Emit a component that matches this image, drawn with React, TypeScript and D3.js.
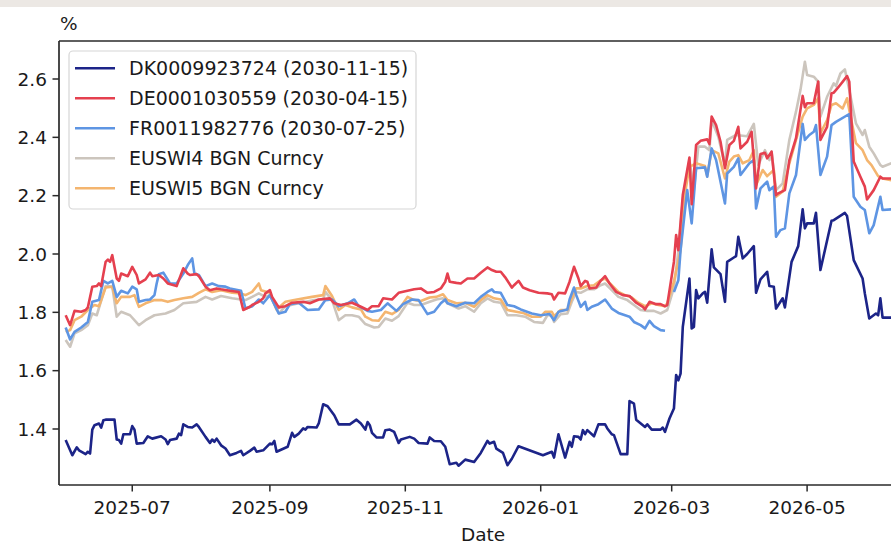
import React from "react";
import * as d3 from "d3";

type Pt = [string, number | null];

const seriesNames = [
  "DK0009923724 (2030-11-15)",
  "DE0001030559 (2030-04-15)",
  "FR0011982776 (2030-07-25)",
  "EUSWI4 BGN Curncy",
  "EUSWI5 BGN Curncy",
];
const seriesColors = ["#1c2488", "#e5404f", "#5e95e3", "#ccc5bd", "#f4b56f"];

const dk: Pt[] = [
  ["2025-06-01",1.362],["2025-06-04",1.310],["2025-06-06",1.337],["2025-06-07",1.327],["2025-06-10",1.314],["2025-06-11",1.322],["2025-06-12",1.316],["2025-06-13",1.398],["2025-06-14",1.413],["2025-06-16",1.419],["2025-06-17",1.405],["2025-06-18",1.430],["2025-06-19",1.432],["2025-06-23",1.432],["2025-06-24",1.364],["2025-06-25",1.362],["2025-06-26",1.350],["2025-06-27",1.382],["2025-06-30",1.382],["2025-07-01",1.410],["2025-07-02",1.398],["2025-07-03",1.350],["2025-07-06",1.352],["2025-07-08",1.375],["2025-07-10",1.367],["2025-07-14",1.375],["2025-07-16",1.364],["2025-07-17",1.348],["2025-07-18",1.362],["2025-07-21",1.367],["2025-07-22",1.384],["2025-07-23",1.379],["2025-07-24",1.416],["2025-07-26",1.407],["2025-07-28",1.405],["2025-07-30",1.416],["2025-07-31",1.407],["2025-08-03",1.373],["2025-08-05",1.352],["2025-08-06",1.364],["2025-08-07",1.356],["2025-08-08",1.367],["2025-08-10",1.344],["2025-08-12",1.333],["2025-08-14",1.310],["2025-08-17",1.318],["2025-08-19",1.325],["2025-08-20",1.310],["2025-08-23",1.325],["2025-08-25",1.336],["2025-08-26",1.322],["2025-08-29",1.327],["2025-09-01",1.350],["2025-09-02",1.348],["2025-09-03",1.359],["2025-09-04",1.322],["2025-09-06",1.329],["2025-09-09",1.339],["2025-09-11",1.387],["2025-09-12",1.373],["2025-09-14",1.384],["2025-09-16",1.402],["2025-09-17",1.398],["2025-09-18",1.407],["2025-09-22",1.405],["2025-09-23",1.419],["2025-09-25",1.485],["2025-09-27",1.478],["2025-09-30",1.447],["2025-10-02",1.416],["2025-10-07",1.416],["2025-10-10",1.432],["2025-10-12",1.419],["2025-10-14",1.398],["2025-10-15",1.424],["2025-10-16",1.413],["2025-10-17",1.387],["2025-10-19",1.371],["2025-10-22",1.371],["2025-10-23",1.396],["2025-10-25",1.398],["2025-10-27",1.390],["2025-10-29",1.352],["2025-10-30",1.364],["2025-11-03",1.373],["2025-11-05",1.367],["2025-11-07",1.352],["2025-11-11",1.350],["2025-11-12",1.371],["2025-11-14",1.359],["2025-11-17",1.358],["2025-11-19",1.339],["2025-11-21",1.279],["2025-11-24",1.284],["2025-11-25",1.274],["2025-11-28",1.295],["2025-12-02",1.287],["2025-12-05",1.318],["2025-12-08",1.359],["2025-12-09",1.350],["2025-12-11",1.356],["2025-12-12",1.333],["2025-12-15",1.318],["2025-12-17",1.276],["2025-12-19",1.298],["2025-12-22",1.341],["2026-01-02",1.310],["2026-01-06",1.322],["2026-01-07",1.302],["2026-01-09",1.382],["2026-01-12",1.302],["2026-01-14",1.356],["2026-01-15",1.339],["2026-01-16",1.375],["2026-01-18",1.373],["2026-01-19",1.364],["2026-01-20",1.396],["2026-01-21",1.382],["2026-01-22",1.396],["2026-01-25",1.375],["2026-01-27",1.416],["2026-01-30",1.416],["2026-01-31",1.402],["2026-02-02",1.382],["2026-02-03",1.379],["2026-02-06",1.314],["2026-02-09",1.314],["2026-02-10",1.496],["2026-02-12",1.487],["2026-02-13",1.432],["2026-02-17",1.407],["2026-02-18",1.416],["2026-02-20",1.398],["2026-02-24",1.398],["2026-02-25",1.405],["2026-02-26",1.390],["2026-02-28",1.436],["2026-03-02",1.470],["2026-03-03",1.585],["2026-03-04",1.567],["2026-03-05",1.590],["2026-03-06",1.750],["2026-03-09",1.916],["2026-03-10",1.745],["2026-03-11",1.750],["2026-03-12",1.876],["2026-03-13",1.848],["2026-03-15",1.865],["2026-03-16",1.870],["2026-03-17",1.833],["2026-03-19",2.016],["2026-03-20",1.954],["2026-03-23",1.931],["2026-03-25",1.836],["2026-03-26",1.973],["2026-03-29",1.988],["2026-03-30",1.993],["2026-03-31",2.059],["2026-04-02",1.985],["2026-04-04",2.000],["2026-04-07",2.027],["2026-04-08",1.867],["2026-04-10",1.913],["2026-04-13",1.939],["2026-04-14",1.890],["2026-04-16",1.888],["2026-04-17",1.813],["2026-04-20",1.848],["2026-04-21",1.817],["2026-04-24",1.973],["2026-04-27",2.027],["2026-04-29",2.153],["2026-04-30",2.088],["2026-05-01",2.105],["2026-05-04",2.105],["2026-05-05",2.141],["2026-05-07",1.945],["2026-05-12",2.114],["2026-05-13",2.116],["2026-05-18",2.141],["2026-05-19",2.130],["2026-05-22",1.979],["2026-05-26",1.916],["2026-05-27",1.865],["2026-05-29",1.779],["2026-06-01",1.796],["2026-06-02",1.790],["2026-06-03",1.848],["2026-06-04",1.782],["2026-06-08",1.782],
];

const de: Pt[] = [
  ["2025-06-01",1.790],["2025-06-03",1.756],["2025-06-05",1.805],["2025-06-08",1.802],["2025-06-10",1.808],["2025-06-11",1.817],["2025-06-13",1.888],["2025-06-15",1.890],["2025-06-16",1.899],["2025-06-17",1.890],["2025-06-19",1.973],["2025-06-20",1.981],["2025-06-21",1.973],["2025-06-22",1.996],["2025-06-24",1.916],["2025-06-25",1.908],["2025-06-26",1.933],["2025-06-29",1.924],["2025-07-01",1.956],["2025-07-03",1.928],["2025-07-04",1.899],["2025-07-07",1.913],["2025-07-09",1.936],["2025-07-10",1.924],["2025-07-13",1.928],["2025-07-15",1.916],["2025-07-17",1.899],["2025-07-21",1.890],["2025-07-24",1.951],["2025-07-26",1.933],["2025-07-27",1.928],["2025-07-30",1.931],["2025-07-31",1.924],["2025-08-03",1.888],["2025-08-05",1.876],["2025-08-08",1.882],["2025-08-10",1.879],["2025-08-14",1.874],["2025-08-18",1.870],["2025-08-20",1.808],["2025-08-23",1.819],["2025-08-24",1.825],["2025-08-27",1.836],["2025-08-29",1.848],["2025-08-30",1.865],["2025-09-01",1.876],["2025-09-02",1.853],["2025-09-05",1.817],["2025-09-08",1.821],["2025-09-11",1.833],["2025-09-16",1.836],["2025-09-19",1.831],["2025-09-23",1.844],["2025-09-28",1.848],["2025-09-30",1.831],["2025-10-03",1.825],["2025-10-08",1.833],["2025-10-12",1.819],["2025-10-15",1.808],["2025-10-17",1.821],["2025-10-20",1.821],["2025-10-22",1.848],["2025-10-26",1.844],["2025-10-29",1.867],["2025-11-02",1.874],["2025-11-05",1.879],["2025-11-08",1.882],["2025-11-11",1.867],["2025-11-14",1.870],["2025-11-17",1.882],["2025-11-19",1.905],["2025-11-20",1.933],["2025-11-21",1.905],["2025-11-24",1.901],["2025-11-26",1.899],["2025-11-29",1.916],["2025-12-02",1.916],["2025-12-05",1.936],["2025-12-08",1.954],["2025-12-10",1.945],["2025-12-12",1.939],["2025-12-14",1.939],["2025-12-16",1.920],["2025-12-19",1.885],["2025-12-20",1.893],["2025-12-22",1.908],["2025-12-24",1.885],["2025-12-27",1.876],["2025-12-31",1.867],["2026-01-04",1.865],["2026-01-06",1.862],["2026-01-07",1.844],["2026-01-09",1.867],["2026-01-12",1.865],["2026-01-14",1.905],["2026-01-16",1.956],["2026-01-18",1.916],["2026-01-19",1.890],["2026-01-21",1.908],["2026-01-22",1.905],["2026-01-23",1.882],["2026-01-26",1.885],["2026-01-28",1.908],["2026-01-30",1.924],["2026-02-01",1.899],["2026-02-04",1.870],["2026-02-07",1.859],["2026-02-10",1.856],["2026-02-13",1.833],["2026-02-16",1.819],["2026-02-17",1.810],["2026-02-19",1.836],["2026-02-22",1.828],["2026-02-24",1.828],["2026-02-26",1.821],["2026-02-27",1.825],["2026-03-02",1.973],["2026-03-03",2.065],["2026-03-04",2.013],["2026-03-06",2.202],["2026-03-09",2.331],["2026-03-10",2.171],["2026-03-12",2.374],["2026-03-14",2.388],["2026-03-17",2.393],["2026-03-18",2.377],["2026-03-19",2.471],["2026-03-21",2.442],["2026-03-23",2.385],["2026-03-25",2.294],["2026-03-27",2.374],["2026-03-29",2.388],["2026-03-31",2.436],["2026-04-01",2.362],["2026-04-04",2.385],["2026-04-06",2.419],["2026-04-08",2.225],["2026-04-10",2.343],["2026-04-12",2.347],["2026-04-13",2.328],["2026-04-15",2.351],["2026-04-17",2.202],["2026-04-18",2.208],["2026-04-21",2.219],["2026-04-23",2.322],["2026-04-26",2.397],["2026-04-29",2.542],["2026-04-30",2.503],["2026-05-01",2.517],["2026-05-04",2.517],["2026-05-06",2.591],["2026-05-07",2.391],["2026-05-10",2.436],["2026-05-12",2.551],["2026-05-13",2.553],["2026-05-15",2.571],["2026-05-19",2.610],["2026-05-20",2.591],["2026-05-22",2.317],["2026-05-25",2.265],["2026-05-27",2.231],["2026-05-28",2.187],["2026-05-31",2.219],["2026-06-03",2.265],["2026-06-04",2.259],["2026-06-08",2.259],
];

const fr: Pt[] = [
  ["2025-06-01",1.748],["2025-06-03",1.707],["2025-06-05",1.733],["2025-06-08",1.748],["2025-06-11",1.767],["2025-06-13",1.836],["2025-06-16",1.842],["2025-06-18",1.908],["2025-06-20",1.899],["2025-06-22",1.908],["2025-06-24",1.853],["2025-06-26",1.874],["2025-06-29",1.865],["2025-07-01",1.888],["2025-07-03",1.879],["2025-07-04",1.836],["2025-07-07",1.842],["2025-07-09",1.844],["2025-07-11",1.859],["2025-07-12",1.899],["2025-07-13",1.931],["2025-07-15",1.936],["2025-07-18",1.899],["2025-07-21",1.899],["2025-07-24",1.933],["2025-07-26",1.962],["2025-07-28",1.985],["2025-07-29",1.933],["2025-07-31",1.928],["2025-08-03",1.890],["2025-08-06",1.899],["2025-08-09",1.890],["2025-08-12",1.888],["2025-08-14",1.882],["2025-08-19",1.874],["2025-08-21",1.813],["2025-08-24",1.821],["2025-08-27",1.844],["2025-08-29",1.831],["2025-09-01",1.859],["2025-09-05",1.796],["2025-09-08",1.802],["2025-09-10",1.828],["2025-09-14",1.833],["2025-09-18",1.808],["2025-09-23",1.810],["2025-09-26",1.842],["2025-09-29",1.844],["2025-10-02",1.821],["2025-10-06",1.831],["2025-10-09",1.844],["2025-10-11",1.821],["2025-10-15",1.805],["2025-10-17",1.802],["2025-10-21",1.808],["2025-10-24",1.831],["2025-10-28",1.805],["2025-10-31",1.828],["2025-11-04",1.844],["2025-11-07",1.842],["2025-11-11",1.794],["2025-11-14",1.802],["2025-11-17",1.831],["2025-11-19",1.844],["2025-11-20",1.831],["2025-11-24",1.821],["2025-11-28",1.833],["2025-12-02",1.831],["2025-12-05",1.853],["2025-12-08",1.870],["2025-12-10",1.879],["2025-12-11",1.870],["2025-12-14",1.867],["2025-12-17",1.825],["2025-12-20",1.821],["2025-12-23",1.810],["2025-12-28",1.796],["2026-01-01",1.790],["2026-01-05",1.794],["2026-01-07",1.773],["2026-01-09",1.802],["2026-01-13",1.810],["2026-01-14",1.844],["2026-01-16",1.885],["2026-01-17",1.859],["2026-01-19",1.819],["2026-01-21",1.836],["2026-01-22",1.808],["2026-01-24",1.819],["2026-01-27",1.828],["2026-01-30",1.844],["2026-02-02",1.813],["2026-02-05",1.798],["2026-02-08",1.790],["2026-02-10",1.785],["2026-02-12",1.767],["2026-02-15",1.756],["2026-02-17",1.745],["2026-02-19",1.771],["2026-02-21",1.753],["2026-02-24",1.739],["2026-02-26",1.737],["2026-02-28",null],["2026-03-02",1.870],["2026-03-04",1.910],["2026-03-05",2.013],["2026-03-08",2.219],["2026-03-10",2.105],["2026-03-12",2.294],["2026-03-16",2.297],["2026-03-17",2.265],["2026-03-19",2.362],["2026-03-21",2.322],["2026-03-25",2.173],["2026-03-26",2.276],["2026-03-29",2.299],["2026-03-31",2.328],["2026-04-01",2.271],["2026-04-05",2.311],["2026-04-07",2.322],["2026-04-08",2.156],["2026-04-10",2.225],["2026-04-13",2.248],["2026-04-14",2.219],["2026-04-16",2.231],["2026-04-17",2.059],["2026-04-19",2.082],["2026-04-21",2.088],["2026-04-23",2.208],["2026-04-26",2.271],["2026-04-29",2.446],["2026-04-30",2.391],["2026-05-02",2.408],["2026-05-04",2.419],["2026-05-05",2.442],["2026-05-07",2.271],["2026-05-10",2.334],["2026-05-12",2.442],["2026-05-14",2.453],["2026-05-20",2.480],["2026-05-22",2.196],["2026-05-25",2.162],["2026-05-27",2.151],["2026-05-29",2.071],["2026-05-31",2.099],["2026-06-03",2.196],["2026-06-04",2.151],["2026-06-08",2.153],
];

const euswi4: Pt[] = [
  ["2025-06-01",1.705],["2025-06-03",1.682],["2025-06-05",1.728],["2025-06-08",1.739],["2025-06-11",1.756],["2025-06-13",1.796],["2025-06-15",1.790],["2025-06-19",1.890],["2025-06-22",1.888],["2025-06-24",1.785],["2025-06-26",1.802],["2025-06-30",1.790],["2025-07-04",1.756],["2025-07-07",1.773],["2025-07-11",1.790],["2025-07-16",1.796],["2025-07-20",1.808],["2025-07-24",1.831],["2025-07-30",1.836],["2025-08-03",1.853],["2025-08-06",1.844],["2025-08-10",1.856],["2025-08-15",1.848],["2025-08-19",1.844],["2025-08-21",1.842],["2025-08-24",1.853],["2025-08-27",1.865],["2025-08-30",1.853],["2025-09-01",1.859],["2025-09-05",1.796],["2025-09-08",1.821],["2025-09-14",1.831],["2025-09-21",1.842],["2025-09-25",1.844],["2025-09-26",1.870],["2025-09-29",1.842],["2025-10-02",1.773],["2025-10-05",1.790],["2025-10-08",1.790],["2025-10-11",1.785],["2025-10-14",1.760],["2025-10-18",1.748],["2025-10-20",1.750],["2025-10-23",1.779],["2025-10-26",1.771],["2025-10-29",1.787],["2025-11-02",1.833],["2025-11-05",1.825],["2025-11-08",1.825],["2025-11-12",1.836],["2025-11-15",1.844],["2025-11-18",1.848],["2025-11-20",1.831],["2025-11-25",1.813],["2025-11-28",1.821],["2025-12-02",1.802],["2025-12-05",1.831],["2025-12-08",1.848],["2025-12-11",1.836],["2025-12-14",1.833],["2025-12-17",1.790],["2025-12-21",1.790],["2025-12-25",1.785],["2025-12-29",1.767],["2026-01-02",1.764],["2026-01-04",1.790],["2026-01-06",1.790],["2026-01-07",1.767],["2026-01-10",1.794],["2026-01-13",1.796],["2026-01-15",1.836],["2026-01-17",1.870],["2026-01-19",1.867],["2026-01-22",1.879],["2026-01-25",1.879],["2026-01-28",1.893],["2026-01-30",1.899],["2026-02-02",1.876],["2026-02-05",1.853],["2026-02-09",1.842],["2026-02-12",1.825],["2026-02-15",1.808],["2026-02-18",1.805],["2026-02-21",1.805],["2026-02-24",1.796],["2026-02-27",1.808],["2026-03-02",1.885],["2026-03-04",2.010],["2026-03-06",2.185],["2026-03-09",2.322],["2026-03-11",2.219],["2026-03-13",2.368],["2026-03-16",2.368],["2026-03-18",2.356],["2026-03-19",2.459],["2026-03-22",2.402],["2026-03-25",2.305],["2026-03-26",2.391],["2026-03-30",2.408],["2026-04-04",2.404],["2026-04-07",2.446],["2026-04-09",2.305],["2026-04-12",2.356],["2026-04-14",2.322],["2026-04-15",2.351],["2026-04-17",2.219],["2026-04-20",2.242],["2026-04-23",2.391],["2026-04-26",2.488],["2026-04-28",2.562],["2026-04-30",2.659],["2026-05-01",2.614],["2026-05-04",2.608],["2026-05-06",2.591],["2026-05-07",2.471],["2026-05-10",2.539],["2026-05-13",2.585],["2026-05-14",2.576],["2026-05-16",2.619],["2026-05-18",2.633],["2026-05-20",2.562],["2026-05-23",2.448],["2026-05-26",2.408],["2026-05-27",2.425],["2026-05-29",2.368],["2026-05-31",2.345],["2026-06-03",2.305],["2026-06-04",2.299],["2026-06-08",2.311],
];

const euswi5: Pt[] = [
  ["2025-06-01",1.733],["2025-06-03",1.739],["2025-06-05",1.773],["2025-06-08",1.785],["2025-06-11",1.808],["2025-06-14",1.825],["2025-06-16",1.821],["2025-06-19",1.885],["2025-06-22",1.888],["2025-06-24",1.831],["2025-06-26",1.853],["2025-06-30",1.853],["2025-07-02",1.859],["2025-07-04",1.819],["2025-07-07",1.831],["2025-07-11",1.842],["2025-07-14",1.842],["2025-07-17",1.836],["2025-07-20",1.842],["2025-07-24",1.848],["2025-07-28",1.853],["2025-07-31",1.867],["2025-08-03",1.879],["2025-08-06",1.870],["2025-08-10",1.876],["2025-08-15",1.867],["2025-08-19",1.865],["2025-08-21",1.859],["2025-08-24",1.870],["2025-08-27",1.899],["2025-08-28",1.876],["2025-09-01",1.867],["2025-09-04",1.810],["2025-09-08",1.836],["2025-09-12",1.842],["2025-09-20",1.853],["2025-09-25",1.859],["2025-09-26",1.890],["2025-09-29",1.856],["2025-10-02",1.808],["2025-10-05",1.825],["2025-10-08",1.817],["2025-10-12",1.810],["2025-10-14",1.785],["2025-10-17",1.773],["2025-10-20",1.771],["2025-10-23",1.802],["2025-10-26",1.794],["2025-10-29",1.808],["2025-11-02",1.853],["2025-11-05",1.842],["2025-11-08",1.839],["2025-11-12",1.851],["2025-11-15",1.853],["2025-11-18",1.862],["2025-11-20",1.842],["2025-11-24",1.831],["2025-11-28",1.833],["2025-12-02",1.819],["2025-12-05",1.842],["2025-12-08",1.859],["2025-12-11",1.848],["2025-12-14",1.844],["2025-12-17",1.808],["2025-12-21",1.802],["2025-12-24",1.798],["2025-12-28",1.785],["2026-01-01",1.785],["2026-01-03",1.802],["2026-01-06",1.802],["2026-01-07",1.787],["2026-01-10",1.808],["2026-01-13",1.808],["2026-01-15",1.848],["2026-01-17",1.882],["2026-01-19",1.882],["2026-01-22",1.890],["2026-01-25",1.893],["2026-01-28",1.910],["2026-01-30",1.916],["2026-02-02",1.893],["2026-02-05",1.870],["2026-02-08",1.859],["2026-02-11",1.851],["2026-02-14",1.833],["2026-02-17",1.821],["2026-02-20",1.831],["2026-02-23",1.825],["2026-02-26",1.821],["2026-02-27",1.831],["2026-03-02",1.905],["2026-03-05",2.013],["2026-03-07",2.208],["2026-03-09",2.299],["2026-03-12",2.311],["2026-03-16",2.302],["2026-03-17",2.267],["2026-03-19",2.356],["2026-03-22",2.345],["2026-03-25",2.259],["2026-03-27",2.317],["2026-03-29",2.334],["2026-03-31",2.339],["2026-04-02",2.311],["2026-04-05",2.322],["2026-04-07",2.356],["2026-04-08",2.236],["2026-04-11",2.288],["2026-04-13",2.267],["2026-04-16",2.288],["2026-04-17",2.196],["2026-04-20",2.214],["2026-04-23",2.311],["2026-04-26",2.391],["2026-04-29",2.471],["2026-05-01",2.499],["2026-05-04",2.511],["2026-05-06",2.534],["2026-05-07",2.414],["2026-05-10",2.459],["2026-05-12",2.511],["2026-05-14",2.517],["2026-05-17",2.499],["2026-05-19",2.534],["2026-05-20",2.494],["2026-05-23",2.380],["2026-05-26",2.356],["2026-05-28",2.322],["2026-05-30",2.305],["2026-06-02",2.267],["2026-06-04",2.259],["2026-06-08",2.253],
];

const yTicks = [1.4, 1.6, 1.8, 2.0, 2.2, 2.4, 2.6];
const xDomain = ["2025-05-29", "2026-06-15"];
const yDomain = [1.208, 2.7303];
const yLabel = "%";
const xLabel = "Date";

const allSeries = [dk, de, fr, euswi4, euswi5];
const drawOrder = [3, 4, 2, 1, 0];

const W = 891;
const H = 544;
const M = { left: 59, top: 41, right: 907, bottom: 485 };
const FONT = "DejaVu Sans, sans-serif";
const FS = 18.5;
const LFS = 19;

export default function App() {
  const parse = d3.timeParse("%Y-%m-%d");
  const x = d3
    .scaleTime()
    .domain(xDomain.map((d) => parse(d) as Date))
    .range([M.left, M.right]);
  const y = d3.scaleLinear().domain(yDomain).range([M.bottom, M.top]);
  const line = d3
    .line<Pt>()
    .defined((d) => d[1] !== null)
    .x((d) => x(parse(d[0]) as Date))
    .y((d) => y(d[1] as number));
  const xTicks = x.ticks(d3.timeMonth.every(2) as d3.TimeInterval);
  const fmt = d3.timeFormat("%Y-%m");

  return (
    <div style={{ position: "absolute", left: 0, top: 0 }}>
      <svg width={W} height={H} style={{ display: "block", background: "#fff" }} fontFamily={FONT}>
        <rect x={0} y={0} width={W} height={7} fill="#ece8e4" />
        <defs>
          <clipPath id="plot">
            <rect x={M.left} y={M.top} width={M.right - M.left} height={M.bottom - M.top} />
          </clipPath>
        </defs>
        <g clipPath="url(#plot)">
          {drawOrder.map((i) => (
            <path
              key={i}
              d={line(allSeries[i]) || ""}
              fill="none"
              stroke={seriesColors[i]}
              strokeWidth={2.6}
              strokeLinejoin="round"
            />
          ))}
        </g>
        <line x1={M.left} x2={M.left} y1={M.top} y2={M.bottom} stroke="#2a2a2a" strokeWidth={1.7} />
        <line x1={M.left} x2={W} y1={M.top} y2={M.top} stroke="#2a2a2a" strokeWidth={1.7} />
        <line x1={M.left} x2={W} y1={M.bottom} y2={M.bottom} stroke="#2a2a2a" strokeWidth={1.7} />
        {yTicks.map((t) => (
          <g key={t}>
            <line x1={M.left - 6.5} x2={M.left} y1={y(t)} y2={y(t)} stroke="#2a2a2a" strokeWidth={1.5} />
            <text x={M.left - 12} y={y(t)} dy="0.36em" textAnchor="end" fontSize={FS} fill="#1a1a1a">
              {t.toFixed(1)}
            </text>
          </g>
        ))}
        {xTicks.map((t) => (
          <g key={t.getTime()}>
            <line x1={x(t)} x2={x(t)} y1={M.bottom} y2={M.bottom + 6.5} stroke="#2a2a2a" strokeWidth={1.5} />
            <text x={x(t)} y={514} textAnchor="middle" fontSize={FS} fill="#1a1a1a">
              {fmt(t)}
            </text>
          </g>
        ))}
        <text x={(M.left + M.right) / 2} y={541} textAnchor="middle" fontSize={FS} fill="#1a1a1a">
          {xLabel}
        </text>
        <text x={60} y={30} fontSize={FS} fill="#1a1a1a">
          {yLabel}
        </text>
        <rect x={69} y={51} width={347} height={158} rx={4} fill="#fff" fillOpacity={0.8} stroke="#d6d6d6" strokeWidth={1.2} />
        {seriesNames.map((n, i) => {
          const ly = 68.3 + i * 30;
          return (
            <g key={n}>
              <line x1={75} x2={115} y1={ly} y2={ly} stroke={seriesColors[i]} strokeWidth={2.6} />
              <text x={129} y={ly} dy="0.36em" fontSize={LFS} fill="#1a1a1a">
                {n}
              </text>
            </g>
          );
        })}
      </svg>
    </div>
  );
}
